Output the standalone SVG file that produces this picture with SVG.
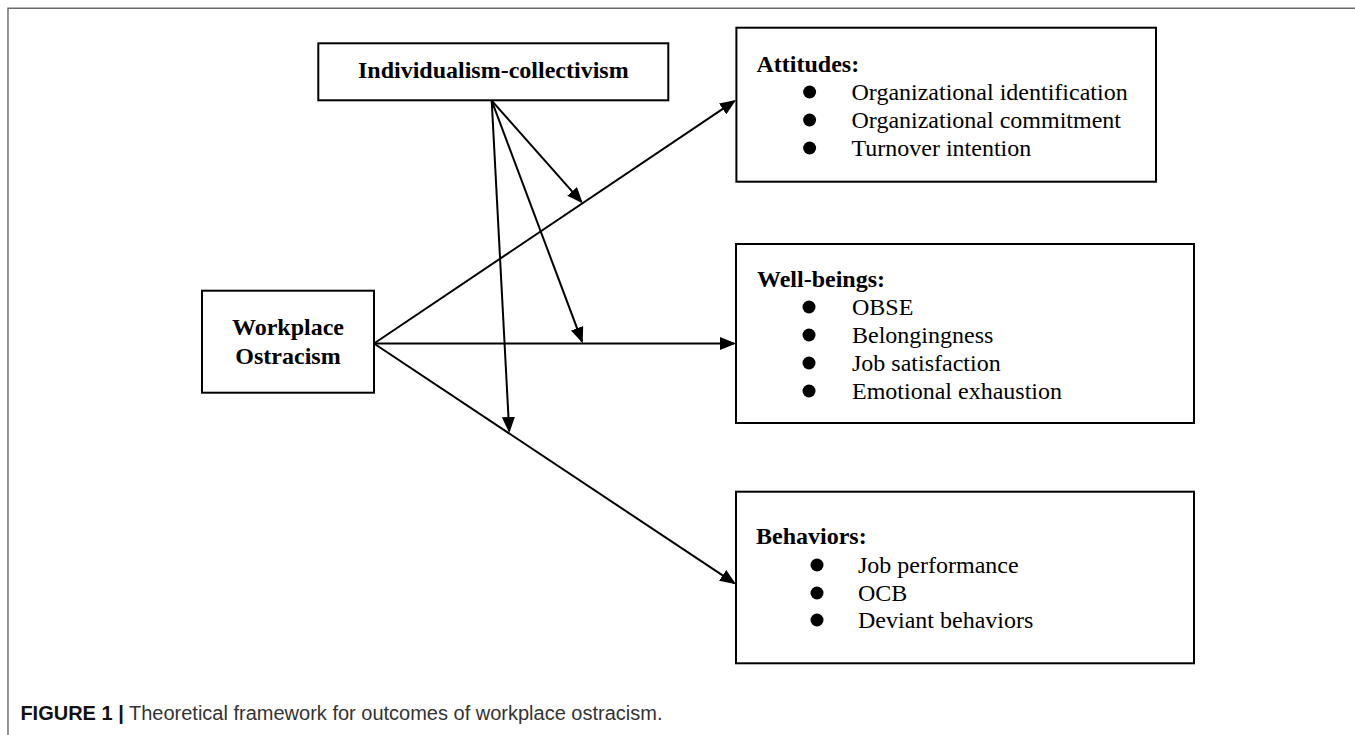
<svg xmlns="http://www.w3.org/2000/svg" width="1355" height="735" viewBox="0 0 1355 735">
  <style>
    .frame { stroke: #6a6a6a; stroke-width: 1.4; fill: none; }
    .box { fill: #ffffff; stroke: #000000; stroke-width: 2; }
    .edge { stroke: #000000; stroke-width: 2; fill: none; marker-end: url(#head); }
    .title { font-family: "Liberation Serif", "Times New Roman", serif; font-weight: bold; font-size: 24px; fill: #000; }
    .item { font-family: "Liberation Serif", "Times New Roman", serif; font-size: 24px; fill: #000; }
    .dot { fill: #000; }
    .cap { font-family: "Liberation Sans", Arial, sans-serif; font-size: 20px; fill: #333; }
    .capb { font-weight: bold; fill: #111; }
  </style>
  <defs>
    <marker id="head" markerUnits="userSpaceOnUse" markerWidth="17" markerHeight="13" viewBox="0 0 17 13" refX="14" refY="6.5" orient="auto">
      <path d="M0,0 L16,6.5 L0,13 Z" fill="#000"/>
    </marker>
  </defs>

  <rect width="1355" height="735" fill="#ffffff"/>

  <!-- page frame: top and left rules -->
  <path class="frame" d="M8,735 L8,8.3 L1355,8.3"/>

  <!-- connectors -->
  <g id="connectors">
    <!-- main paths from Workplace Ostracism -->
    <line class="edge" x1="374" y1="343.5" x2="734.3" y2="101.1"/>
    <line class="edge" x1="374" y1="343.5" x2="734" y2="343.5"/>
    <line class="edge" x1="374" y1="343.5" x2="734.3" y2="583.2"/>
    <!-- moderating paths from Individualism-collectivism -->
    <line class="edge" x1="491.7" y1="100.7" x2="581.4" y2="201.8"/>
    <line class="edge" x1="491.7" y1="100.7" x2="582" y2="341.4"/>
    <line class="edge" x1="491.7" y1="100.7" x2="509.2" y2="431"/>
  </g>

  <g id="node-individualism">
    <rect class="box" x="318.3" y="43.3" width="350" height="57"/>
    <text class="title" x="493.3" y="77.5" text-anchor="middle">Individualism-collectivism</text>
  </g>

  <g id="node-workplace">
    <rect class="box" x="202" y="290.7" width="172" height="102"/>
    <text class="title" x="288" y="335" text-anchor="middle">Workplace</text>
    <text class="title" x="288" y="364.3" text-anchor="middle">Ostracism</text>
  </g>

  <g id="node-attitudes">
    <rect class="box" x="736.4" y="27.7" width="419.6" height="154"/>
    <text class="title" x="756.5" y="71.7">Attitudes:</text>
    <circle class="dot" cx="809.6" cy="92" r="6.5"/>
    <circle class="dot" cx="809.6" cy="120" r="6.5"/>
    <circle class="dot" cx="809.6" cy="148" r="6.5"/>
    <text class="item" x="851.5" y="100">Organizational identification</text>
    <text class="item" x="851.5" y="128">Organizational commitment</text>
    <text class="item" x="851.5" y="156">Turnover intention</text>
  </g>

  <g id="node-wellbeings">
    <rect class="box" x="736" y="244" width="458" height="179"/>
    <text class="title" x="757" y="287">Well-beings:</text>
    <circle class="dot" cx="809" cy="307" r="6.5"/>
    <circle class="dot" cx="809" cy="335" r="6.5"/>
    <circle class="dot" cx="809" cy="363" r="6.5"/>
    <circle class="dot" cx="809" cy="391" r="6.5"/>
    <text class="item" x="852" y="315">OBSE</text>
    <text class="item" x="852" y="343">Belongingness</text>
    <text class="item" x="852" y="371">Job satisfaction</text>
    <text class="item" x="852" y="399">Emotional exhaustion</text>
  </g>

  <g id="node-behaviors">
    <rect class="box" x="736" y="491.7" width="458" height="171.6"/>
    <text class="title" x="756" y="544">Behaviors:</text>
    <circle class="dot" cx="817" cy="565" r="6.5"/>
    <circle class="dot" cx="817" cy="593" r="6.5"/>
    <circle class="dot" cx="817" cy="620" r="6.5"/>
    <text class="item" x="858" y="573">Job performance</text>
    <text class="item" x="858" y="601">OCB</text>
    <text class="item" x="858" y="628">Deviant behaviors</text>
  </g>

  <g id="caption">
    <text class="cap" x="20.4" y="720"><tspan class="capb">FIGURE 1 |</tspan> Theoretical framework for outcomes of workplace ostracism.</text>
  </g>
</svg>
